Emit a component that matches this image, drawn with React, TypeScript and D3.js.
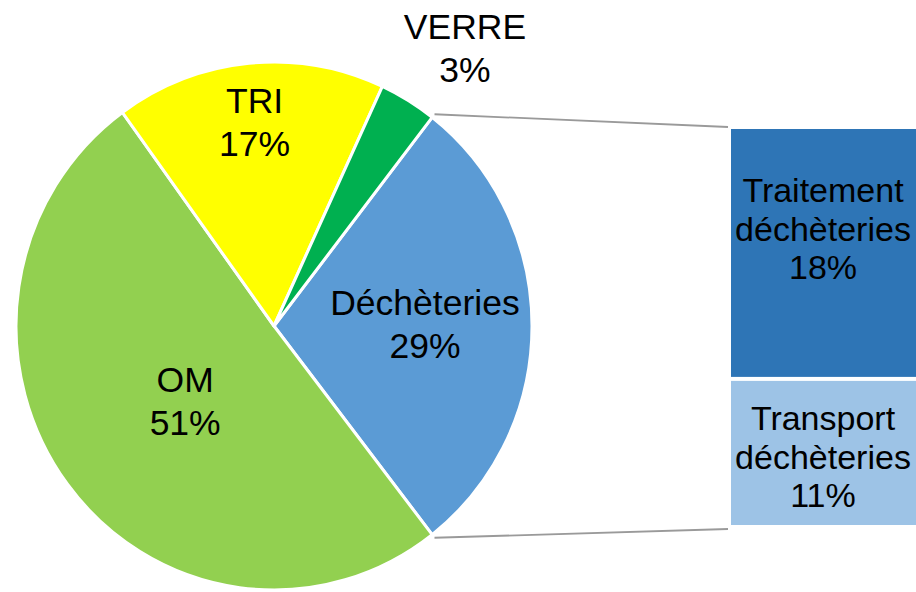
import React from 'react';
import * as d3 from 'd3';

// Main pie: share of costs per flow (%)
const categories = ['Déchèteries', 'OM', 'TRI', 'VERRE'];
const shares = [29.0, 50.5, 16.9, 3.6];
const shareLabels = ['29%', '51%', '17%', '3%'];
const sliceColors = ['#5B9BD5', '#92D050', '#FFFF00', '#00B050'];

// Bar of pie: breakdown of the "Déchèteries" slice
const subCategories = [['Traitement', 'déchèteries'], ['Transport', 'déchèteries']];
const subShares = [18.3, 10.7];
const subLabels = ['18%', '11%'];
const subColors = ['#2E75B6', '#9DC3E6'];

const W = 916;
const H = 592;
const cx = 274;
const cy = 326;
const rx = 258;
const ry = 264;
const FONT = '"Liberation Sans", Arial, sans-serif';
const FS = 35.5;
const FS_BAR = 34;

// label placement: radius factor along the slice mid angle + small nudge
const labelR = [0.585, 0.45, 0.775, 1.23];
const labelNudge = [[0, -2], [4, 4], [0, 0], [26, 0]];

const barX = 731;
const barW = 200;
const barTop = 129;
const barBottom = 525;
const barTextShift = [-24, 4];

const App = () => {
  const total = d3.sum(shares);
  const startAngle = Math.PI / 2 - Math.PI * (shares[0] / total);
  const pie = d3.pie<number>().sort(null).value(d => d)
    .startAngle(startAngle).endAngle(startAngle + 2 * Math.PI);
  const arcs = pie(shares);
  const arc = d3.arc<d3.PieArcDatum<number>>().innerRadius(0).outerRadius(rx);

  const polar = (a: number, r: number): [number, number] =>
    [cx + Math.sin(a) * r * rx, cy - Math.cos(a) * r * ry];

  const y = d3.scaleLinear().domain([0, d3.sum(subShares)]).range([barTop, barBottom]);
  let acc = 0;
  const segs = subShares.map((v, i) => {
    const s = { y0: y(acc), y1: y(acc + v), i };
    acc += v;
    return s;
  });
  const gap = 2;

  const deck = arcs[0];
  const [lx1, ly1] = polar(deck.startAngle, 1.015);
  const [lx2, ly2] = polar(deck.endAngle, 1.015);

  return (
    <svg width={W} height={H} style={{ position: 'absolute', left: 0, top: 0, background: '#fff' }}
      fontFamily={FONT}>
      <g transform={`translate(${cx},${cy}) scale(1,${ry / rx})`}>
        {arcs.map((a, i) => (
          <path key={categories[i]} d={arc(a) || ''} fill={sliceColors[i]} stroke="#fff" strokeWidth={3}
            strokeLinejoin="round" />
        ))}
      </g>

      <line x1={lx1} y1={ly1} x2={barX - 3} y2={barTop - 2} stroke="#9A9A9A" strokeWidth={1.8} />
      <line x1={lx2} y1={ly2} x2={barX - 3} y2={barBottom + 4} stroke="#9A9A9A" strokeWidth={1.8} />

      {arcs.map((a, i) => {
        const mid = (a.startAngle + a.endAngle) / 2;
        const [px, py] = polar(mid, labelR[i]);
        const x = px + labelNudge[i][0];
        const yy = py + labelNudge[i][1];
        return (
          <text key={categories[i]} x={x} textAnchor="middle" fontSize={FS} fill="#000">
            <tspan x={x} y={yy - 9.5}>{categories[i]}</tspan>
            <tspan x={x} y={yy + 33.5}>{shareLabels[i]}</tspan>
          </text>
        );
      })}

      {segs.map(s => {
        const top = s.i === 0 ? s.y0 : s.y0 + gap;
        const bot = s.i === segs.length - 1 ? s.y1 : s.y1 - gap;
        const mid = (top + bot) / 2 + barTextShift[s.i];
        const tx = 823;
        return (
          <g key={s.i}>
            <rect x={barX} y={top} width={barW} height={bot - top} fill={subColors[s.i]} />
            <text textAnchor="middle" fontSize={FS_BAR} fill="#000">
              <tspan x={tx} y={mid - 27}>{subCategories[s.i][0]}</tspan>
              <tspan x={tx} y={mid + 12}>{subCategories[s.i][1]}</tspan>
              <tspan x={tx} y={mid + 50}>{subLabels[s.i]}</tspan>
            </text>
          </g>
        );
      })}
    </svg>
  );
};

export default App;
